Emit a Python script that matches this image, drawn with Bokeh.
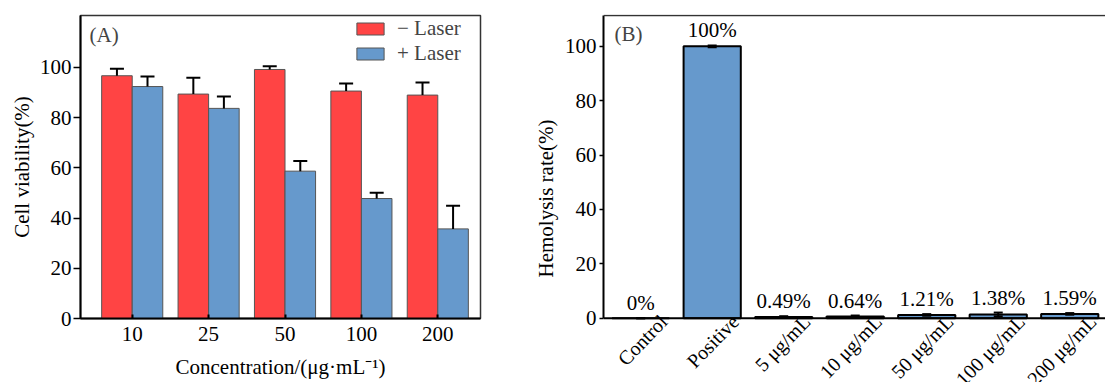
from bokeh.plotting import figure
from bokeh.layouts import row
from bokeh.models import (ColumnDataSource, Range1d, FixedTicker, Whisker, TeeHead,
                          Label, Legend, LegendItem, Span)
from bokeh.core.properties import value
from bokeh.embed import file_html
from bokeh.resources import INLINE

# ---------------- data ----------------
concentrations = ["10", "25", "50", "100", "200"]
no_laser = [96.7, 89.4, 99.2, 90.6, 89.0]
no_laser_err = [2.8, 6.5, 1.3, 3.0, 5.0]
with_laser = [92.4, 83.7, 58.7, 47.8, 35.7]
with_laser_err = [4.0, 4.7, 4.0, 2.3, 9.2]
y_ticks_a = [0, 20, 40, 60, 80, 100]

groups_b = ["Control", "Positive", "5 μg/mL", "10 μg/mL", "50 μg/mL", "100 μg/mL", "200 μg/mL"]
hemolysis = [0.0, 100.0, 0.49, 0.64, 1.21, 1.38, 1.59]
hemolysis_err = [0.0, 0.3, 0.25, 0.35, 0.3, 0.7, 0.3]
hemolysis_labels = ["0%", "100%", "0.49%", "0.64%", "1.21%", "1.38%", "1.59%"]
y_ticks_b = [0, 20, 40, 60, 80, 100]

FONT = "Liberation Serif"
FS = "21px"
RED = "#FF4444"
BLUE = "#6699CC"


def style_axes(p):
    p.xgrid.visible = False
    p.ygrid.visible = False
    for ax in p.axis:
        ax.axis_line_width = 2
        ax.axis_line_color = "black"
        ax.major_tick_line_width = 1.5
        ax.major_tick_line_color = "black"
        ax.minor_tick_in = 0
        ax.minor_tick_out = 0
        ax.major_label_text_font = FONT
        ax.major_label_text_font_size = FS
        ax.major_label_text_color = "black"
        ax.axis_label_text_font = FONT
        ax.axis_label_text_font_size = FS
        ax.axis_label_text_font_style = "normal"
        ax.axis_label_text_color = "black"
    p.outline_line_color = "#333333"
    p.outline_line_width = 1.5
    p.background_fill_color = "white"
    p.border_fill_color = "white"


# ---------------- panel A ----------------
n = len(concentrations)
xs = list(range(1, n + 1))
src_a = ColumnDataSource(dict(
    x_nl=[x - 0.2 for x in xs],
    x_l=[x + 0.2 for x in xs],
    nl=no_laser,
    nl_top=[v + e for v, e in zip(no_laser, no_laser_err)],
    l=with_laser,
    l_top=[v + e for v, e in zip(with_laser, with_laser_err)],
))

pA = figure(width=530, height=382, x_range=Range1d(0.323, 5.559), y_range=Range1d(0, 120.7),
            output_backend="svg", toolbar_location=None, frame_align=False,
            min_border_left=80, min_border_right=50, min_border_top=15, min_border_bottom=64)
style_axes(pA)

r_nl = pA.vbar(x="x_nl", top="nl", width=0.4, source=src_a, fill_color=RED,
               line_color="#555555", line_width=1)
r_l = pA.vbar(x="x_l", top="l", width=0.4, source=src_a, fill_color=BLUE,
              line_color="#555555", line_width=1)

for base, lo, up in (("x_nl", "nl", "nl_top"), ("x_l", "l", "l_top")):
    w = Whisker(source=src_a, base=base, lower=lo, upper=up, level="overlay",
                line_color="black", line_width=2, lower_head=None,
                upper_head=TeeHead(size=14, line_width=2, line_color="black"))
    pA.add_layout(w)

pA.yaxis.ticker = FixedTicker(ticks=y_ticks_a)
pA.yaxis.major_tick_out = 7
pA.yaxis.major_tick_in = 0
pA.yaxis.major_label_standoff = 2
pA.yaxis.axis_label = "Cell viability(%)"
pA.yaxis.axis_label_standoff = 3

pA.xaxis.ticker = FixedTicker(ticks=xs)
pA.xaxis.major_label_overrides = {x: c for x, c in zip(xs, concentrations)}
pA.xaxis.major_tick_in = 4
pA.xaxis.major_tick_out = 0
pA.xaxis.major_tick_line_width = 2
pA.xaxis.major_label_standoff = 8
pA.xaxis.axis_label = "Concentration/(μg·mL⁻¹)"
pA.xaxis.axis_label_standoff = 11

legend = Legend(items=[LegendItem(label="− Laser", renderers=[r_nl]),
                       LegendItem(label="+ Laser", renderers=[r_l])],
                location=(273, 252), margin=0, padding=6, spacing=0,
                glyph_width=34, glyph_height=15, label_standoff=10,
                label_text_font=FONT, label_text_font_size=FS,
                border_line_color=None, background_fill_alpha=0)
pA.add_layout(legend)

pA.add_layout(Label(x=0.323, y=120.7, x_offset=9, y_offset=-19, text="(A)",
                    text_font=FONT, text_font_size=FS, text_baseline="middle",
                    text_align="left"))

# ---------------- panel B ----------------
m = len(groups_b)
xb = list(range(m))
src_b = ColumnDataSource(dict(
    x=xb,
    v=hemolysis,
    lo=[v - e for v, e in zip(hemolysis, hemolysis_err)],
    up=[v + e for v, e in zip(hemolysis, hemolysis_err)],
    lab=hemolysis_labels,
    zero=[0] * m,
    name=groups_b,
))

Y_TOP_B = 111.3
pB = figure(width=575, height=382, x_range=Range1d(-0.52, 6.5),
            y_range=Range1d(-23.64, Y_TOP_B + 0.4), x_axis_type=None,
            output_backend="svg", toolbar_location=None, frame_align=False,
            min_border_left=73, min_border_right=0, min_border_top=14, min_border_bottom=0)
style_axes(pB)
pB.outline_line_color = None

pB.vbar(x="x", top="v", width=0.8, source=src_b, fill_color=BLUE,
        line_color="black", line_width=2)
pB.add_layout(Whisker(source=src_b, base="x", lower="lo", upper="up", level="overlay",
                      line_color="black", line_width=2,
                      lower_head=TeeHead(size=9, line_width=2, line_color="black"),
                      upper_head=TeeHead(size=9, line_width=2, line_color="black")))
pB.text(x="x", y="up", text="lab", source=src_b, text_font=value(FONT),
        text_font_size=FS, text_align="center", text_baseline="alphabetic",
        y_offset=-15, text_color="black")

# category labels under the axis, rotated, ending just right of each bar centre
pB.text(x="x", y="zero", text="name", source=src_b, text_font=value(FONT),
        text_font_size="20px", text_align="right", text_baseline="middle",
        angle=0.8, x_offset=23, y_offset=0, text_color="black")

# x axis line and top frame line
pB.add_layout(Span(location=0, dimension="width", line_color="black", line_width=2))
pB.add_layout(Span(location=Y_TOP_B, dimension="width", line_color="#333333", line_width=1.5))

pB.yaxis.ticker = FixedTicker(ticks=y_ticks_b)
pB.yaxis.bounds = (0, Y_TOP_B)
pB.yaxis.major_tick_out = 4
pB.yaxis.major_tick_in = 0
pB.yaxis.major_label_standoff = 3
pB.yaxis.axis_label = "Hemolysis rate(%)"
pB.yaxis.axis_label_standoff = 4

pB.add_layout(Label(x=-0.52, y=Y_TOP_B, x_offset=11, y_offset=-18, text="(B)",
                    text_font=FONT, text_font_size=FS, text_baseline="middle",
                    text_align="left"))

layout = row(pA, pB)
open("out.html", "w").write(file_html(layout, INLINE))
